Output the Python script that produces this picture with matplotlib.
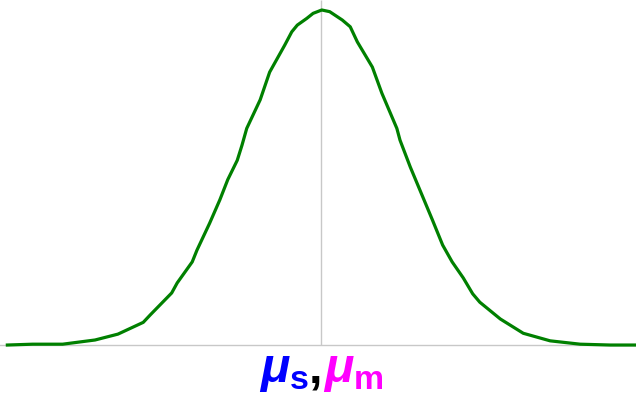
import matplotlib
matplotlib.use("Agg")
import matplotlib.pyplot as plt
from matplotlib.offsetbox import TextArea, HPacker, AnnotationBbox

plt.rcParams['mathtext.fontset'] = 'custom'
plt.rcParams['mathtext.it'] = 'Liberation Sans:bold:italic'
plt.rcParams['mathtext.rm'] = 'Liberation Sans:bold'
plt.rcParams['mathtext.bf'] = 'Liberation Sans:bold'

# bell curve, x in sigma units around the mean
x = [-3.97, -3.65, -3.27, -2.86, -2.57, -2.25, -2.16, -1.89, -1.82, -1.63,
     -1.57, -1.41, -1.28, -1.18, -1.06, -1.00, -0.94, -0.77, -0.65, -0.46,
     -0.37, -0.30, -0.18, -0.10, 0.01, 0.11, 0.27, 0.37, 0.46, 0.65,
     0.77, 0.96, 1.00, 1.13, 1.25, 1.41, 1.54, 1.66, 1.80, 1.92,
     2.01, 2.27, 2.56, 2.90, 3.28, 3.66, 3.99]
y = [0.000, 0.001, 0.001, 0.006, 0.013, 0.027, 0.036, 0.062, 0.074, 0.099,
     0.113, 0.145, 0.173, 0.197, 0.220, 0.238, 0.258, 0.292, 0.325, 0.357,
     0.373, 0.381, 0.389, 0.395, 0.399, 0.397, 0.387, 0.379, 0.361, 0.331,
     0.300, 0.258, 0.244, 0.212, 0.185, 0.149, 0.119, 0.099, 0.080, 0.061,
     0.051, 0.031, 0.014, 0.005, 0.001, 0.000, 0.000]

mean = 0.0
labels = [r"$\mu_\mathrm{s}$", ",", r"$\mu_\mathrm{m}$"]
label_colors = ["#0000ff", "#000000", "#ff00ff"]

fig = plt.figure(figsize=(6.36, 3.96), dpi=100)
ax = fig.add_axes([0, 0, 1, 1])
ax.set_xlim(-4.063, 3.987)
ax.set_ylim(-0.0607, 0.4109)
ax.axis('off')

ax.axhline(0, color='#c8c8c8', lw=1, zorder=1)
ax.vlines(mean, 0, 0.4109, color='#c8c8c8', lw=1, zorder=1)
ax.plot(x, y, color='#008000', lw=2.3, zorder=3)

parts = [TextArea(t, textprops=dict(color=c, fontsize=35, fontweight='bold',
                                    family='Liberation Sans'))
         for t, c in zip(labels, label_colors)]
pack = HPacker(children=parts, align='baseline', pad=0, sep=0)
ab = AnnotationBbox(pack, (mean, -0.0305), frameon=False, box_alignment=(0.5, 0.5))
ax.add_artist(ab)

fig.savefig("out.png", dpi=100)
